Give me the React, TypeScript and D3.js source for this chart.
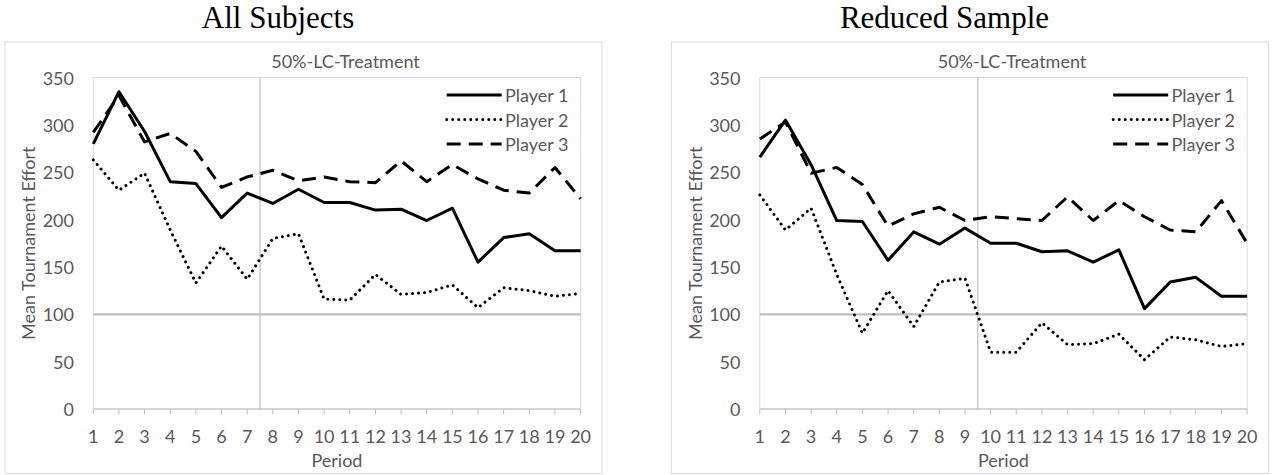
import React from 'react';
import * as d3 from 'd3';

// periods 1..20
const periods = [1, 2, 3, 4, 5, 6, 7, 8, 9, 10, 11, 12, 13, 14, 15, 16, 17, 18, 19, 20];
const yTicks = [0, 50, 100, 150, 200, 250, 300, 350];

// All Subjects
const allPlayer1 = [280, 335, 293, 240, 238, 202, 228, 217, 232, 218, 218, 210, 211, 199, 212, 155, 181, 185, 167, 167];
const allPlayer2 = [263, 231, 249, 189, 133, 172, 137, 180, 185, 116, 115, 142, 121, 123, 131, 107, 128, 125, 119, 122];
const allPlayer3 = [292, 331, 282, 291, 272, 234, 245, 252, 241, 245, 240, 239, 262, 240, 258, 243, 231, 228, 255, 222];

// Reduced Sample
const redPlayer1 = [266, 305, 258, 199, 198, 157, 187, 174, 191, 175, 175, 166, 167, 155, 168, 106, 134, 139, 119, 119];
const redPlayer2 = [226, 189, 212, 142, 80, 125, 87, 134, 138, 60, 60, 91, 68, 69, 79, 52, 76, 73, 66, 69];
const redPlayer3 = [285, 303, 249, 255, 237, 193, 206, 213, 199, 203, 201, 199, 224, 199, 220, 203, 189, 187, 220, 175];

const playerNames = ['Player 1', 'Player 2', 'Player 3'];

const TEXT = '#595959';
const FONT = 'Lato, "Open Sans", sans-serif';

const lineStyles = [
  { dash: undefined as string | undefined, cap: 'butt' as const },
  { dash: '0.01 6', cap: 'round' as const },
  { dash: '14 8', cap: 'butt' as const },
];

interface PanelProps {
  ox: number;
  title: string;
  split: number;
  series: number[][];
}

function Panel({ ox, title, split, series }: PanelProps) {
  const plot = { left: 93.3, right: 580.6, top: 77.5, bottom: 409 };

  const x = d3.scaleLinear().domain([1, 20]).range([plot.left, plot.right]);
  const y = d3.scaleLinear().domain([0, 350]).range([plot.bottom, plot.top]);

  const line = d3.line<number>()
    .x((_, i) => x(periods[i]))
    .y(d => y(d));

  return (
    <g transform={`translate(${ox},0)`}>
      <text x={278} y={28} textAnchor="middle" fontFamily='"Liberation Serif", "Times New Roman", serif'
        fontSize={31} fill="#000">{title}</text>

      <rect x={5} y={42} width={597} height={431.5} fill="#fff" stroke="#d9d9d9" strokeWidth={1} />

      <text x={345.5} y={68} textAnchor="middle" fontFamily={FONT} fontSize={18} fill={TEXT}>50%-LC-Treatment</text>

      {/* plot frame */}
      <rect x={plot.left} y={plot.top} width={plot.right - plot.left} height={plot.bottom - plot.top}
        fill="none" stroke="#d9d9d9" strokeWidth={1} />

      {/* reference lines */}
      <line x1={x(split)} x2={x(split)} y1={plot.top} y2={plot.bottom} stroke="#bfbfbf" strokeWidth={1.2} />
      <line x1={plot.left} x2={plot.right} y1={y(100)} y2={y(100)} stroke="#bfbfbf" strokeWidth={2.2} />

      {/* x axis */}
      <line x1={plot.left} x2={plot.right} y1={plot.bottom} y2={plot.bottom} stroke="#bfbfbf" strokeWidth={1} />
      {periods.map(p => (
        <g key={p}>
          <line x1={x(p)} x2={x(p)} y1={plot.bottom} y2={plot.bottom + 5.5} stroke="#bfbfbf" strokeWidth={1} />
          <text x={x(p)} y={435.5} textAnchor="middle" dominantBaseline="central"
            fontFamily={FONT} fontSize={18} fill={TEXT}>{p}</text>
        </g>
      ))}
      <text x={(plot.left + plot.right) / 2} y={460} textAnchor="middle" dominantBaseline="central"
        fontFamily={FONT} fontSize={18} fill={TEXT}>Period</text>

      {/* y axis */}
      {yTicks.map(t => (
        <text key={t} x={74} y={y(t)} textAnchor="end" dominantBaseline="central"
          fontFamily={FONT} fontSize={18} fill={TEXT}>{t}</text>
      ))}
      <text transform={`translate(28,${(plot.top + plot.bottom) / 2}) rotate(-90)`} textAnchor="middle"
        dominantBaseline="central" fontFamily={FONT} fontSize={18} fill={TEXT}>Mean Tournament Effort</text>

      {/* series */}
      {series.map((s, i) => (
        <path key={i} d={line(s) || ''} fill="none" stroke="#000" strokeWidth={3}
          strokeDasharray={lineStyles[i].dash} strokeLinecap={lineStyles[i].cap} strokeLinejoin="round" />
      ))}

      {/* legend */}
      {playerNames.map((name, i) => {
        const ly = 95 + i * 24.5;
        return (
          <g key={name}>
            <line x1={446.7} x2={501.7} y1={ly} y2={ly} stroke="#000" strokeWidth={3}
              strokeDasharray={lineStyles[i].dash} strokeLinecap={lineStyles[i].cap} />
            <text x={505} y={ly} dominantBaseline="central" fontFamily={FONT} fontSize={18} fill={TEXT}>{name}</text>
          </g>
        );
      })}
    </g>
  );
}

export default function App() {
  return (
    <div style={{ position: 'absolute', left: 0, top: 0 }}>
      <svg width={1280} height={475} style={{ display: 'block', background: '#fff' }}>
        <Panel ox={0} title="All Subjects" split={7.5} series={[allPlayer1, allPlayer2, allPlayer3]} />
        <Panel ox={666.5} title="Reduced Sample" split={9.5} series={[redPlayer1, redPlayer2, redPlayer3]} />
      </svg>
    </div>
  );
}
